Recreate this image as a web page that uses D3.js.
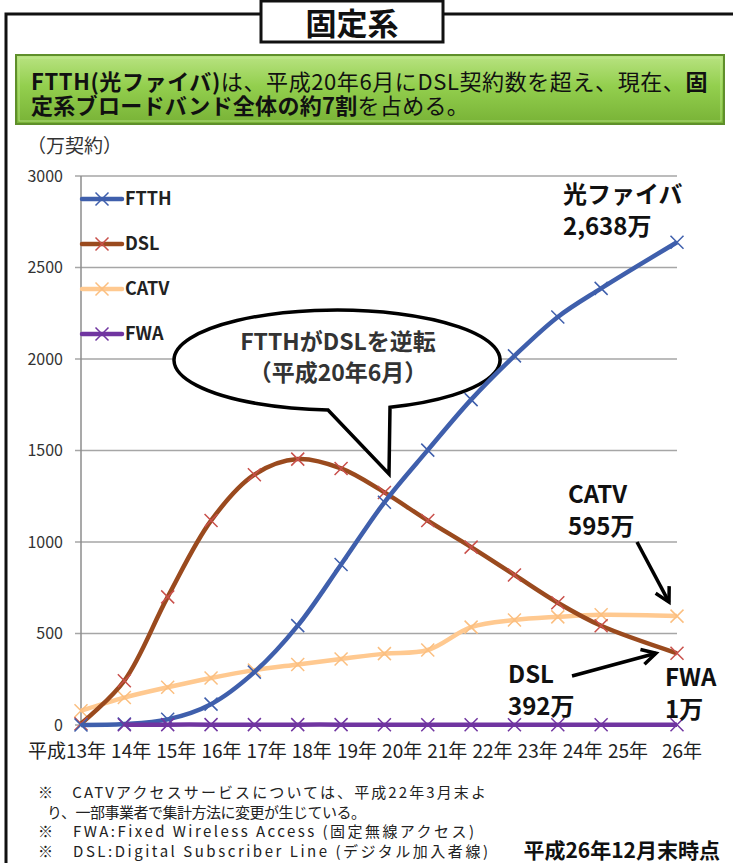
<!DOCTYPE html>
<html>
<head>
<meta charset="utf-8">
<script src="https://cdn.jsdelivr.net/npm/d3@7"></script>
<style>
  html, body { margin: 0; padding: 0; background: #fff; }
  svg { display: block; }
  text { font-family: "Noto Sans CJK JP", "Noto Sans", sans-serif; }
</style>
</head>
<body>
<svg id="chart" width="733" height="863"></svg>
<script>
// period ends (Heisei year, month), one per data point
var periods = [[13, 3], [14, 3], [15, 3], [16, 3], [17, 3], [18, 3], [19, 3],
  [20, 3], [21, 3], [22, 3], [23, 3], [24, 3], [25, 3], [26, 12]];

// subscriptions, 10,000 contracts (万契約)
var ftthValues = [0, 5, 31, 114, 289, 543, 877, 1217, 1502, 1778, 2017, 2230, 2386, 2638];
var dslValues = [7, 242, 700, 1117, 1368, 1453, 1402, 1271, 1117, 972, 820, 668, 542, 392];
var catvValues = [78, 150, 206, 257, 300, 331, 361, 390, 410, 535, 574, 591, 602, 595];
var fwaValues = [null, 1, 2, 2, 2, 2, 2, 1, 1, 1, 1, 1, 1, 1];

var yTicks = [0, 500, 1000, 1500, 2000, 2500, 3000];
var yearLabels = [13, 14, 15, 16, 17, 18, 19, 20, 21, 22, 23, 24, 25, 26];

var footnotes = [
  '※\u3000CATVアクセスサービスについては、平成22年3月末よ',
  'り、一部事業者で集計方法に変更が生じている。',
  '※\u3000FWA:Fixed Wireless Access (固定無線アクセス)',
  '※\u3000DSL:Digital Subscriber Line (デジタル加入者線)'
];

var svg = d3.select('#chart');

function periodTime(p) {
  return p[0] + p[1] / 12;
}

var x = d3.scaleLinear()
  .domain([periodTime(periods[0]), periodTime(periods[periods.length - 1])])
  .range([81, 677]);

var y = d3.scaleLinear().domain([0, 3000]).range([725, 176]);

// category text sits on its own, slightly wider, spacing
var xLabel = d3.scaleLinear().domain([13, 25]).range([86, 628]);

var series = [
  {name: 'CATV', values: catvValues, line: '#FFC990', mark: '#FBBF80'},
  {name: 'DSL', values: dslValues, line: '#9A4A1E', mark: '#C9504B'},
  {name: 'FTTH', values: ftthValues, line: '#3F5FAC', mark: '#3F5FAC'},
  {name: 'FWA', values: fwaValues, line: '#7035A0', mark: '#7035A0'}
];
var legendOrder = ['FTTH', 'DSL', 'CATV', 'FWA'];

function drawFrame() {
  var frame = svg.append('g').attr('fill', 'none').attr('stroke', '#111').attr('stroke-width', 3);
  frame.append('path').attr('d', 'M6,863 V14 H261 M443,14 H733');

  svg.append('rect')
    .attr('x', 261).attr('y', 1).attr('width', 182).attr('height', 41)
    .attr('fill', '#fff').attr('stroke', '#111').attr('stroke-width', 3);
  svg.append('text')
    .attr('x', 352).attr('y', 35)
    .attr('text-anchor', 'middle')
    .attr('font-size', 31).attr('font-weight', 'bold').attr('fill', '#111')
    .text('固定系');
}

function drawHeadline() {
  var defs = svg.append('defs');
  var grad = defs.append('linearGradient').attr('id', 'green').attr('x1', 0).attr('y1', 0).attr('x2', 0).attr('y2', 1);
  grad.append('stop').attr('offset', '0%').attr('stop-color', '#B9E382');
  grad.append('stop').attr('offset', '45%').attr('stop-color', '#93CF4E');
  grad.append('stop').attr('offset', '100%').attr('stop-color', '#78B236');

  svg.append('rect')
    .attr('x', 16).attr('y', 55).attr('width', 708).attr('height', 69)
    .attr('fill', 'url(#green)').attr('stroke', '#5F8F2B').attr('stroke-width', 2);
  svg.append('rect')
    .attr('x', 19).attr('y', 58).attr('width', 702).attr('height', 63)
    .attr('fill', 'none').attr('stroke', '#C8EE9A').attr('stroke-width', 1).attr('opacity', 0.7);

  var line1 = svg.append('text').attr('x', 31).attr('y', 90).attr('font-size', 22).attr('fill', '#111')
    .attr('letter-spacing', 0.6);
  line1.append('tspan').attr('font-weight', 'bold').text('FTTH(光ファイバ)');
  line1.append('tspan').text('は、平成20年6月にDSL契約数を超え、現在、');
  line1.append('tspan').attr('font-weight', 'bold').text('固');

  var line2 = svg.append('text').attr('x', 31).attr('y', 114).attr('font-size', 22).attr('fill', '#111')
    .attr('letter-spacing', 0.3);
  line2.append('tspan').attr('font-weight', 'bold').text('定系ブロードバンド全体の約7割');
  line2.append('tspan').text('を占める。');
}

function drawAxes() {
  var grid = svg.append('g');
  grid.selectAll('line')
    .data(yTicks)
    .enter().append('line')
    .attr('x1', 75).attr('x2', x.range()[1])
    .attr('y1', function (d) { return y(d); })
    .attr('y2', function (d) { return y(d); })
    .attr('stroke', '#A6A6A6').attr('stroke-width', 1.3);

  svg.append('line')
    .attr('x1', 81).attr('x2', 81).attr('y1', y(3000)).attr('y2', y(0))
    .attr('stroke', '#8C8C8C').attr('stroke-width', 1.5);

  svg.append('g').selectAll('text')
    .data(yTicks)
    .enter().append('text')
    .attr('x', 63)
    .attr('y', function (d) { return y(d); })
    .attr('dy', '0.35em')
    .attr('text-anchor', 'end')
    .attr('font-family', '"Noto Sans", sans-serif')
    .attr('font-size', 16).attr('fill', '#333')
    .text(function (d) { return d; });

  svg.append('text')
    .attr('x', 27).attr('y', 153)
    .attr('font-size', 19).attr('fill', '#333')
    .text('（万契約）');

  var labels = svg.append('g').attr('font-size', 19).attr('fill', '#222');
  labels.selectAll('text')
    .data(yearLabels)
    .enter().append('text')
    .attr('x', function (d) {
      return d <= 25 ? xLabel(d) : x(periodTime(periods[periods.length - 1])) + 5;
    })
    .attr('y', 758)
    .attr('text-anchor', 'middle')
    .text(function (d) { return d + '年'; });
  labels.append('text')
    .attr('x', xLabel(13) - 20).attr('y', 758)
    .attr('text-anchor', 'end')
    .text('平成');
}

function drawBubble() {
  var cx = 337, cy = 360, rx = 163, ry = 50;
  function lowerY(px) {
    var t = (px - cx) / rx;
    return cy + ry * Math.sqrt(1 - t * t);
  }
  var leftX = 328, rightX = 390;
  var tip = [389, 474];
  var d = 'M' + leftX + ',' + lowerY(leftX) +
    ' L' + tip[0] + ',' + tip[1] +
    ' L' + rightX + ',' + lowerY(rightX) +
    ' A' + rx + ',' + ry + ' 0 1 0 ' + leftX + ',' + lowerY(leftX) + ' Z';

  svg.append('path').attr('d', d)
    .attr('fill', '#fff').attr('stroke', '#000').attr('stroke-width', 3.5)
    .attr('stroke-linejoin', 'miter');

  var t = svg.append('g').attr('font-size', 23).attr('font-weight', 'bold').attr('fill', '#333')
    .attr('text-anchor', 'middle');
  t.append('text').attr('x', 338).attr('y', 350).text('FTTHがDSLを逆転');
  t.append('text').attr('x', 338).attr('y', 381).text('（平成20年6月）');
}

function drawSeries() {
  var rows = periods.map(function (p, i) { return {t: periodTime(p), i: i}; });

  var line = d3.line()
    .curve(d3.curveCatmullRom.alpha(0.5));

  series.forEach(function (s) {
    var pts = rows
      .filter(function (r) { return s.values[r.i] != null; })
      .map(function (r) { return [x(r.t), y(s.values[r.i])]; });

    var g = svg.append('g').attr('class', 'series-' + s.name);
    g.append('path')
      .attr('d', line(pts))
      .attr('fill', 'none')
      .attr('stroke', s.line)
      .attr('stroke-width', 4.5)
      .attr('stroke-linejoin', 'round');

    g.selectAll('path.mark')
      .data(pts)
      .enter().append('path')
      .attr('class', 'mark')
      .attr('transform', function (p) { return 'translate(' + p[0] + ',' + p[1] + ')'; })
      .attr('d', 'M-6.5,-6.5L6.5,6.5M-6.5,6.5L6.5,-6.5')
      .attr('stroke', s.mark)
      .attr('stroke-width', 1.5);
  });
}

function drawLegend() {
  var top = 199, step = 45;
  var g = svg.append('g');
  legendOrder.forEach(function (name, i) {
    var s = series.filter(function (d) { return d.name === name; })[0];
    var ly = top + i * step;
    g.append('line')
      .attr('x1', 82).attr('x2', 122).attr('y1', ly).attr('y2', ly)
      .attr('stroke', s.line).attr('stroke-width', 4.5).attr('stroke-linecap', 'round');
    g.append('path')
      .attr('transform', 'translate(102,' + ly + ')')
      .attr('d', 'M-6.5,-6.5L6.5,6.5M-6.5,6.5L6.5,-6.5')
      .attr('stroke', s.mark).attr('stroke-width', 1.5);
    g.append('text')
      .attr('x', 125).attr('y', ly).attr('dy', '0.36em')
      .attr('font-family', '"Liberation Sans", Arial, sans-serif')
      .attr('font-size', 18).attr('font-weight', 'bold').attr('fill', '#222')
      .text(name);
  });
}

function drawArrow(from, to) {
  var g = svg.append('g').attr('stroke', '#000').attr('stroke-width', 3.5)
    .attr('fill', 'none').attr('stroke-linecap', 'butt');
  var ang = Math.atan2(to[1] - from[1], to[0] - from[0]);
  var len = 16, spread = 0.5;
  g.append('line').attr('x1', from[0]).attr('y1', from[1]).attr('x2', to[0]).attr('y2', to[1]);
  g.append('path').attr('d',
    'M' + (to[0] - len * Math.cos(ang - spread)) + ',' + (to[1] - len * Math.sin(ang - spread)) +
    ' L' + to[0] + ',' + to[1] +
    ' L' + (to[0] - len * Math.cos(ang + spread)) + ',' + (to[1] - len * Math.sin(ang + spread)));
}

function drawCallouts() {
  var last = periods.length - 1;
  var lastX = x(periodTime(periods[last]));

  var g = svg.append('g').attr('font-size', 24).attr('font-weight', 'bold').attr('fill', '#111');
  function label(tx, ty, lines) {
    lines.forEach(function (l, i) {
      g.append('text').attr('x', tx).attr('y', ty + i * 32).text(l);
    });
  }
  label(563, 203, ['光ファイバ', d3.format(',')(ftthValues[last]) + '万']);
  label(568, 503, ['CATV', catvValues[last] + '万']);
  label(508, 683, ['DSL', dslValues[last] + '万']);
  label(665, 686, ['FWA', fwaValues[last] + '万']);

  drawArrow([637, 542], [lastX - 8, y(catvValues[last]) - 14]);
  drawArrow([572, 676], [lastX - 21, y(dslValues[last])]);
}

function drawFootnotes() {
  var g = svg.append('g').attr('font-size', 15).attr('fill', '#222')
    .attr('font-family', '"Liberation Serif", "Noto Sans CJK JP", serif');
  // widths follow the wider Mincho setting of the source
  var starts = [38, 47, 38, 38];
  var ends = [486, 366, 474, 488];
  footnotes.forEach(function (f, i) {
    g.append('text')
      .attr('x', starts[i]).attr('y', 798 + i * 19.5)
      .attr('textLength', ends[i] - starts[i])
      .attr('lengthAdjust', 'spacing')
      .text(f);
  });
  svg.append('text')
    .attr('x', 720).attr('y', 858)
    .attr('text-anchor', 'end')
    .attr('font-size', 21).attr('font-weight', 'bold').attr('fill', '#111')
    .text('平成26年12月末時点');
}

drawFrame();
drawHeadline();
drawAxes();
drawBubble();
drawSeries();
drawLegend();
drawCallouts();
drawFootnotes();
</script>
</body>
</html>
